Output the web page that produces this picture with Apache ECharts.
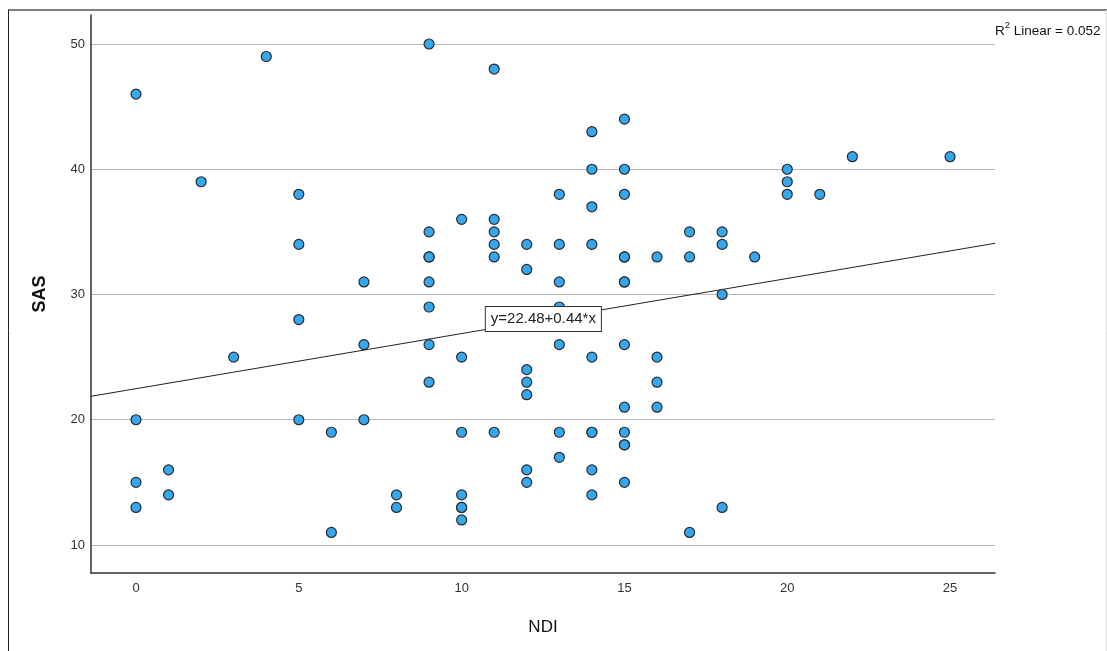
<!DOCTYPE html>
<html>
<head>
<meta charset="utf-8">
<script src="https://cdn.jsdelivr.net/npm/echarts@6/dist/echarts.min.js"></script>
<style>
html,body{margin:0;padding:0;background:#fff;}
#chart{width:1107px;height:651px;}
</style>
</head>
<body>
<div id="chart"></div>
<script>
// NDI (x) and SAS (y) per respondent
const ndiValues = [
  0,0,0,0,
  1,1,
  2,
  3,
  4,
  5,5,5,5,
  6,6,
  7,7,7,
  8,8,
  9,9,9,9,9,9,9,9,
  10,10,10,10,10,10,10,
  11,11,11,11,11,11,
  12,12,12,12,12,12,12,
  13,13,13,13,13,13,13,
  14,14,14,14,14,14,14,14,14,
  15,15,15,15,15,15,15,15,15,15,15,15,15,
  16,16,16,16,
  17,17,17,
  18,18,18,18,
  19,
  20,20,20,
  21,
  22,
  25
];
const sasValues = [
  46,20,15,13,
  16,14,
  39,
  25,
  49,
  38,34,28,20,
  19,11,
  31,26,20,
  14,13,
  50,35,33,33,31,29,26,23,
  36,25,19,14,13,13,12,
  48,36,35,34,33,19,
  34,32,24,23,22,16,15,
  38,34,31,29,26,19,17,
  43,40,37,34,25,19,19,16,14,
  44,40,38,33,33,31,31,26,21,19,18,18,15,
  33,25,23,21,
  35,33,11,
  35,34,30,13,
  33,
  40,39,38,
  38,
  41,
  41
];
const xTickLabels = [0, 5, 10, 15, 20, 25];
const yTickLabels = [10, 20, 30, 40, 50];
const fitIntercept = 22.48;
const fitSlope = 0.44;
const rSquared = 0.052;
const xRange = [-1.382, 26.38];
const yRange = [7.764, 52.315];

const points = ndiValues.map((x, i) => [x, sasValues[i]]);
const fitLine = xRange.map(x => [x, fitIntercept + fitSlope * x]);
const eqText = 'y=' + fitIntercept.toFixed(2) + '+' + fitSlope.toFixed(2) + '*x';

const chart = echarts.init(document.getElementById('chart'));
const FONT = '"Liberation Sans", Arial, sans-serif';
chart.setOption({
  backgroundColor: '#ffffff',
  animation: false,
  grid: { left: 91, right: 112, top: 15, bottom: 78, containLabel: false },
  xAxis: {
    type: 'value',
    min: xRange[0], max: xRange[1],
    name: 'NDI', nameLocation: 'middle', nameGap: 46,
    nameTextStyle: { fontFamily: FONT, fontSize: 17, color: '#111' },
    axisLine: { show: true, onZero: false, lineStyle: { color: '#333', width: 1.5 } },
    axisTick: { show: false, customValues: xTickLabels },
    axisLabel: { customValues: xTickLabels, fontFamily: FONT, fontSize: 13, color: '#333', margin: 9 },
    splitLine: { show: false }
  },
  yAxis: {
    type: 'value',
    min: yRange[0], max: yRange[1],
    name: 'SAS', nameLocation: 'middle', nameGap: 42, nameRotate: 90,
    nameTextStyle: { fontFamily: FONT, fontSize: 18, fontWeight: 'bold', color: '#111' },
    axisLine: { show: true, onZero: false, lineStyle: { color: '#333', width: 1.5 } },
    axisTick: { show: false, customValues: yTickLabels },
    axisLabel: { customValues: yTickLabels, fontFamily: FONT, fontSize: 13, color: '#333', margin: 6 },
    splitLine: { show: true, lineStyle: { color: '#b8b8b8', width: 1 } }
  },
  series: [
    {
      type: 'line',
      data: fitLine,
      symbol: 'none',
      lineStyle: { color: '#222', width: 1 },
      z: 2,
      silent: true
    },
    {
      type: 'scatter',
      data: points,
      symbol: 'circle',
      symbolSize: 10,
      itemStyle: { color: '#35a7ef', borderColor: '#2a2a2a', borderWidth: 1.2, opacity: 1 },
      z: 3
    },
    {
      type: 'scatter',
      data: [],
      z: 5,
      markPoint: {
        symbol: 'rect',
        symbolSize: 1,
        itemStyle: { color: 'rgba(0,0,0,0)' },
        label: {
          show: true,
          position: 'inside',
          formatter: eqText,
          fontFamily: FONT,
          fontSize: 15,
          color: '#222',
          backgroundColor: '#ffffff',
          borderColor: '#333',
          borderWidth: 1,
          padding: [5, 5, 4, 5]
        },
        data: [{ coord: [12.51, 28.04] }]
      }
    }
  ],
  graphic: [
    { type: 'line', shape: { x1: 8, y1: 10, x2: 1107, y2: 10 }, style: { stroke: '#555', lineWidth: 1.5 } },
    { type: 'line', shape: { x1: 8.5, y1: 10, x2: 8.5, y2: 651 }, style: { stroke: '#222', lineWidth: 1 } },
    { type: 'line', shape: { x1: 1106.5, y1: 10, x2: 1106.5, y2: 651 }, style: { stroke: '#ddd', lineWidth: 1 } },
    {
      type: 'text', left: 995, top: 20,
      style: {
        text: '{r|R}{s|2}{r| Linear = ' + rSquared.toFixed(3) + '}',
        rich: {
          r: { fontFamily: FONT, fontSize: 13.5, fill: '#111', verticalAlign: 'bottom', lineHeight: 18 },
          s: { fontFamily: FONT, fontSize: 9.5, fill: '#111', verticalAlign: 'top', lineHeight: 18, padding: [0, 0, 7, 0] }
        }
      }
    }
  ]
});
</script>
</body>
</html>
